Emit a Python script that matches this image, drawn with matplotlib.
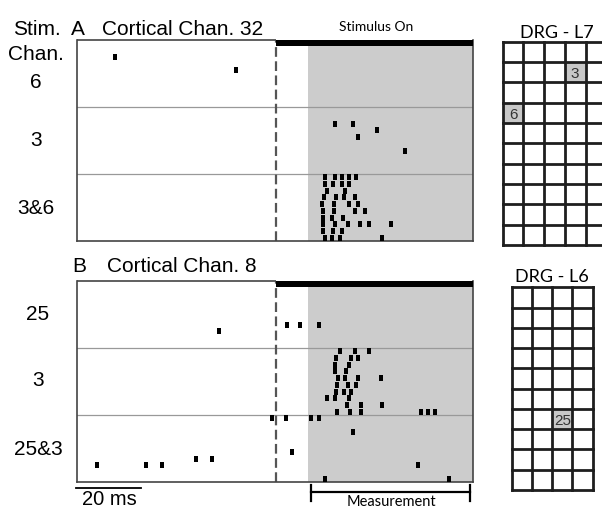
import matplotlib
matplotlib.use("Agg")
import matplotlib.pyplot as plt
from matplotlib.patches import Rectangle
import matplotlib.transforms as mtransforms

plt.rcParams['lines.scale_dashes'] = False

W, H = 602, 510

# ---------------- data (spike times in ms relative to stimulus onset) -------------
xlim_ms = (-61.5, 60.9)
stim_on = 0.0
meas_start, meas_end = 10.0, 60.9
n_trials = 10

# Panel A : Cortical Chan. 32
A_labels = ["6", "3", "3&6"]
A_b0_trials = [2, 4]
A_b0_times = [-49.8, -12.3]
A_b1_trials = [2, 2, 3, 4, 6]
A_b1_times = [18.2, 23.7, 31.2, 25.4, 39.8]
A_b2_trials = [0, 0, 0, 0, 0,
               1, 1, 1, 1,
               2, 2,
               3, 3, 3, 3,
               4, 4, 4, 4,
               5, 5, 5, 5,
               6, 6, 6,
               7, 7, 7, 7, 7, 7,
               8, 8, 8,
               9, 9, 9, 9]
A_b2_times = [15.1, 18.3, 20.5, 22.7, 24.8,
              15.1, 17.5, 20.5, 22.6,
              15.8, 21.4,
              14.8, 18.5, 20.9, 24.5,
              14.2, 18.0, 22.5, 25.2,
              14.6, 18.0, 24.3, 27.5,
              14.6, 17.4, 20.8,
              14.6, 18.2, 22.2, 26.1, 28.7, 35.5,
              14.6, 17.5, 20.5,
              15.1, 17.3, 19.9, 32.8]

# Panel B : Cortical Chan. 8
B_labels = ["25", "3", "25&3"]
B_b0_trials = [6, 6, 6, 7]
B_b0_times = [3.3, 7.4, 13.2, -17.5]
B_b1_trials = [0, 0, 0,
               1, 1, 1,
               2, 2,
               3, 3,
               4, 4, 4, 4,
               5, 5, 5,
               6, 6, 6,
               7, 7, 7,
               8, 8, 8,
               9, 9, 9, 9, 9, 9]
B_b1_times = [19.7, 24.3, 28.8,
              18.6, 23.2, 25.4,
              18.3, 22.6,
              18.3, 21.5,
              19.2, 21.4, 25.2, 32.4,
              18.9, 22.2, 24.8,
              18.6, 21.1, 23.1,
              15.8, 18.1, 22.7,
              22.1, 26.2, 32.9,
              19.0, 22.9, 26.2, 44.8, 47.1, 49.3]
B_b2_trials = [0, 0, 0, 0, 2, 5, 6, 6, 7, 7, 7, 7, 9, 9]
B_b2_times = [-1.1, 3.0, 10.9, 13.4, 23.8, 5.0, -24.7, -19.9,
              -55.3, -40.3, -35.1, 43.8, 15.3, 53.5]

# DRG electrode grids
L7_rows, L7_cols = 10, 5
L7_active_rows = [1, 3]
L7_active_cols = [3, 0]
L7_active_labels = ["3", "6"]
L6_rows, L6_cols = 10, 4
L6_active_rows = [6]
L6_active_cols = [2]
L6_active_labels = ["25"]

# ---------------- helpers ----------------
def fx(x):
    return x / W

def fy(y):
    return 1 - y / H

def axes_px(fig, x0, y0, x1, y1):
    return fig.add_axes([fx(x0), fy(y1), (x1 - x0) / W, (y1 - y0) / H])

ARIAL = "Liberation Sans"
MYR = "Lato"

rect_marker = [(-1, -2), (1, -2), (1, 2), (-1, 2), (-1, -2)]

fig = plt.figure(figsize=(W / 100, H / 100), dpi=100)


def raster(ax, blocks):
    ax.set_xlim(*xlim_ms)
    ax.set_ylim(3 * n_trials, 0)
    ax.axvspan(meas_start, xlim_ms[1], color="#cccccc", lw=0, zorder=0)
    for k in (1, 2):
        ax.axhline(k * n_trials, color="#999999", lw=0.9, zorder=1)
    ax.axvline(stim_on, color="#555555", lw=1.6, dashes=(7.0, 3.2), zorder=2)
    for k, (trials, times) in enumerate(blocks):
        ys = [k * n_trials + t + 0.5 for t in trials]
        ax.plot(times, ys, linestyle="none", marker=rect_marker,
                markersize=4.4, markeredgewidth=0, color="black", zorder=3)
    for s in ("left", "bottom", "right"):
        ax.spines[s].set_color("#444444")
        ax.spines[s].set_linewidth(1.2)
    ax.spines["top"].set_visible(False)
    trans = mtransforms.blended_transform_factory(ax.transData, ax.transAxes)
    ax.plot([xlim_ms[0], stim_on], [1, 1], color="#444444", lw=1.2,
            transform=trans, clip_on=False, zorder=4, solid_capstyle="butt")
    ax.add_patch(Rectangle((stim_on, 1 - 5.5 / 201), xlim_ms[1] - stim_on, 5.5 / 201,
                           transform=trans, color="black", lw=0, clip_on=False, zorder=4))
    ax.set_xticks([])
    ax.set_yticks([])


axA = axes_px(fig, 77, 41, 473, 242)
raster(axA, [(A_b0_trials, A_b0_times), (A_b1_trials, A_b1_times),
             (A_b2_trials, A_b2_times)])
axB = axes_px(fig, 77, 282, 473, 483)
raster(axB, [(B_b0_trials, B_b0_times), (B_b1_trials, B_b1_times),
             (B_b2_trials, B_b2_times)])

# ---------------- texts ----------------
fs = 15
fig.text(fx(13), fy(35), "Stim.", fontsize=fs, family=ARIAL, va="baseline")
fig.text(fx(71), fy(35), "A", fontsize=fs, family=ARIAL, va="baseline")
fig.text(fx(102), fy(35), "Cortical Chan. 32", fontsize=fs, family=ARIAL, va="baseline")
fig.text(fx(8), fy(60), "Chan.", fontsize=fs, family=ARIAL, va="baseline")
for lab, yc in zip(A_labels, [83, 141, 208]):
    fig.text(fx(36), fy(yc), lab, fontsize=fs, family=ARIAL, ha="center", va="center")

fig.text(fx(72), fy(272), "B", fontsize=fs, family=ARIAL, va="baseline")
fig.text(fx(107), fy(272), "Cortical Chan. 8", fontsize=fs, family=ARIAL, va="baseline")
for lab, yc in zip(B_labels, [315, 381, 450]):
    fig.text(fx(38), fy(yc), lab, fontsize=fs, family=ARIAL, ha="center", va="center")

fig.text(fx(376), fy(27), "Stimulus On", fontsize=10, family=MYR, ha="center", va="center")

# scale bar
fig.add_artist(plt.Line2D([fx(76), fx(141)], [fy(489), fy(489)], color="black", lw=1.3))
fig.text(fx(82), fy(505), "20 ms", fontsize=14.5, family=ARIAL, va="baseline")

# measurement bracket
fig.add_artist(plt.Line2D([fx(311), fx(470)], [fy(492.5), fy(492.5)], color="black", lw=1.6))
for xb in (311, 470):
    fig.add_artist(plt.Line2D([fx(xb), fx(xb)], [fy(486), fy(502)], color="black", lw=1.6))
fig.text(fx(391), fy(502.5), "Measurement", fontsize=10.5, family=MYR, ha="center", va="center")


# ---------------- DRG grids ----------------
def grid(x0, y0, cw, ch, nr, nc, arows, acols, alabels, title, tx, ty):
    ax = axes_px(fig, x0, y0, x0 + nc * cw, y0 + nr * ch)
    ax.set_xlim(0, nc)
    ax.set_ylim(nr, 0)
    ax.axis("off")
    for r, c, lab in zip(arows, acols, alabels):
        ax.add_patch(Rectangle((c, r), 1, 1, color="#c8c8c8", lw=0, zorder=0))
        ax.text(c + 0.5, r + 0.55, lab, fontsize=11, family=ARIAL, color="#333333",
                ha="center", va="center", zorder=1)
    for i in range(nc + 1):
        ax.plot([i, i], [0, nr], color="#1e1e1e", lw=2.0, clip_on=False, zorder=2,
                solid_capstyle="projecting")
    for j in range(nr + 1):
        ax.plot([0, nc], [j, j], color="#1e1e1e", lw=2.0, clip_on=False, zorder=2,
                solid_capstyle="projecting")
    fig.text(fx(tx), fy(ty), title, fontsize=13, family=MYR, ha="center", va="baseline")


grid(502.7, 42.7, 20.7, 20.33, L7_rows, L7_cols, L7_active_rows, L7_active_cols,
     L7_active_labels, "DRG - L7", 557, 38)
grid(511.7, 288.3, 20.25, 20.27, L6_rows, L6_cols, L6_active_rows, L6_active_cols,
     L6_active_labels, "DRG - L6", 552, 282)

fig.savefig("out.png", dpi=100)
